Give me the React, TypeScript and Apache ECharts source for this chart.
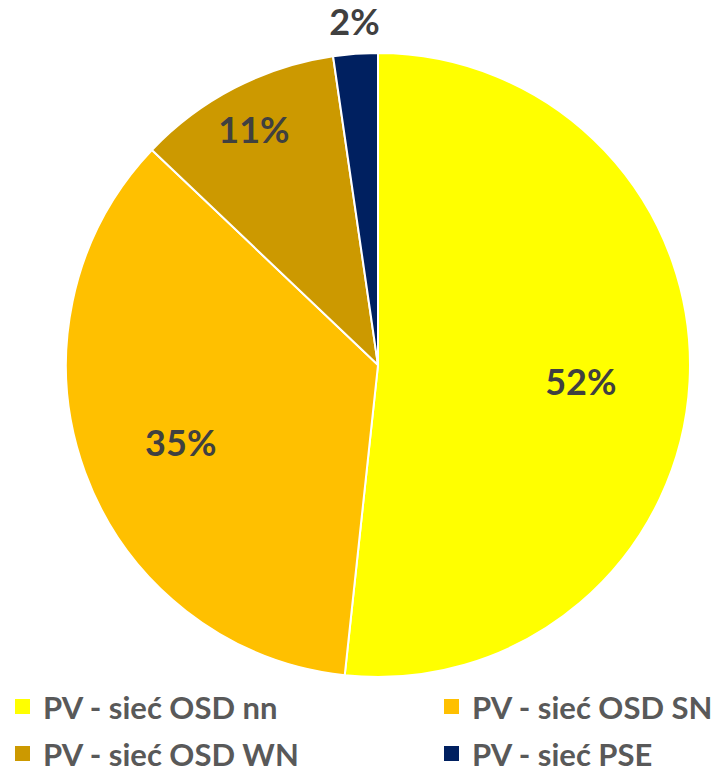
import React, { useEffect, useRef } from "react";
import * as echarts from "echarts";

const categories = ["PV - sieć OSD nn", "PV - sieć OSD SN", "PV - sieć OSD WN", "PV - sieć PSE"];
const values = [51.7, 35.4, 10.6, 2.3];
const colors = ["#FFFF00", "#FFC000", "#CC9900", "#002060"];
const labelOffsets: number[][] = [[44, 8], [-48, 22], [-51, -95], [-12, -185]];

export default function App() {
  const ref = useRef<HTMLDivElement>(null);
  useEffect(() => {
    document.body.style.margin = "0";
    const chart = echarts.init(ref.current!, null, { renderer: "svg" });
    const font = "Lato, 'Open Sans', sans-serif";
    const legendText = {
      fontFamily: font,
      fontWeight: "bold" as const,
      fontSize: 31,
      color: "#595959",
      lineHeight: 30,
      padding: [0, 0, 0, 7],
    };
    const legendBase = {
      orient: "vertical" as const,
      top: 691,
      padding: 0,
      itemGap: 16,
      itemWidth: 17,
      itemHeight: 17,
      icon: "rect",
      textStyle: legendText,
    };
    chart.setOption({
      animation: false,
      backgroundColor: "#FFFFFF",
      legend: [
        { ...legendBase, data: [categories[0], categories[2]], left: 13 },
        { ...legendBase, data: [categories[1], categories[3]], left: 442 },
      ],
      series: [
        {
          type: "pie",
          center: [378, 365],
          radius: 312,
          startAngle: 90,
          clockwise: true,
          percentPrecision: 0,
          avoidLabelOverlap: false,
          itemStyle: { borderColor: "#FFFFFF", borderWidth: 2 },
          label: {
            show: true,
            position: "inside",
            formatter: "{d}%",
            fontFamily: font,
            fontWeight: "bold",
            fontSize: 36,
            lineHeight: 36,
            color: "#404040",
          },
          labelLine: { show: false },
          emphasis: { disabled: true },
          data: categories.map((name, i) => ({
            name,
            value: values[i],
            itemStyle: { color: colors[i] },
            label: { offset: labelOffsets[i] },
          })),
        },
      ],
    });
    return () => chart.dispose();
  }, []);
  return <div ref={ref} style={{ width: 720, height: 773 }} />;
}
